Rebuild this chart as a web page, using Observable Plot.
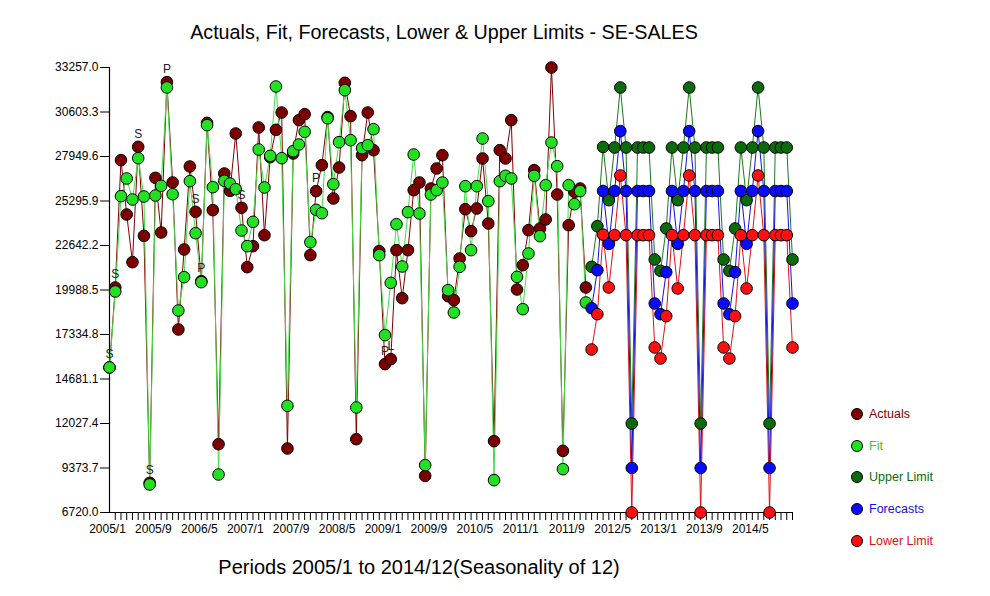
<!DOCTYPE html>
<html><head><meta charset="utf-8">
<script src="https://cdn.jsdelivr.net/npm/d3@7"></script>
<script src="https://cdn.jsdelivr.net/npm/@observablehq/plot@0.6"></script>
<style>
body{margin:0;background:#fff;font-family:"Liberation Sans",Arial,sans-serif;}
#wrap{position:relative;width:990px;height:596px;overflow:hidden;}
#legend{position:absolute;left:851px;top:398px;}
.item{display:flex;align-items:center;height:31.75px;font-size:12.5px;}
.sw{width:12px;height:12px;border-radius:50%;border:1px solid #000;box-sizing:border-box;margin-right:6px;}
</style></head><body><div id="wrap"></div>
<script>
// ---- data (month index 0 = 2005/1) ----
const actuals = [15370,20138,27731,24491,21648,28526,23219,8489,26677,23417,32382,26399,
 17633,22404,27353,24650,20515,29957,24749,10795,26936,25902,29321,24888,
 21350,22602,29679,23258,27910,29540,30573,10536,28128,30116,30474,22066,
 25882,27433,30300,25445,27294,32343,30355,11093,28029,30573,28327,22304,
 15566,15864,22364,19501,22364,25942,26399,8906,26041,27234,28029,19621,
 19382,21867,24809,23497,24849,27830,23954,10974,28327,27830,30116,20018,
 21469,23557,27135,23656,24193,33257,25683,10397,23855,25843,26041,20138];
const fit = [15370,19899,25584,26638,25385,27850,25564,8390,25624,26200,32064,25703,
 18766,20754,26479,23378,20455,29818,26121,8986,26498,26339,26002,23537,
 22602,24054,28367,26101,27989,32124,27850,13081,28268,28665,29421,22841,
 24769,24570,30230,26300,28804,31905,28924,12981,28447,28625,29580,22066,
 17295,20416,23914,21390,24630,28069,24550,9543,25683,25942,26399,19978,
 18647,21370,26180,22364,26180,29023,25286,8648,26479,26797,26638,20774,
 18845,22165,26797,23199,26240,28784,27373,9304,26240,25107,25882,19243];
const forecastStart = 84;
const forecasts = [18905,21171,25890,22742,25890,29460,25890,9374,25890,25890,25890,19183,
 18547,21052,25890,22742,25890,29460,25890,9374,25890,25890,25890,19183,
 18547,21052,25890,22742,25890,29460,25890,9374,25890,25890,25890,19183];
const upper = [21370,23795,28520,25346,28486,32064,28486,12027,28486,28486,28486,21807,
 21131,23656,28486,25346,28486,32064,28486,12027,28486,28486,28486,21807,
 21131,23656,28486,25346,28486,32064,28486,12027,28486,28486,28486,21807];
const lower = [16441,18547,23290,20138,23258,26817,23258,6720,23258,23258,23258,16560,
 15904,18428,23258,20078,23258,26817,23258,6720,23258,23258,23258,16560,
 15904,18428,23258,20078,23258,26817,23258,6720,23258,23258,23258,16560];
const yTicks = [6720.0,9373.7,12027.4,14681.1,17334.8,19988.5,22642.2,25295.9,27949.6,30603.3,33257.0];
const xTickLabels = ["2005/1","2005/9","2006/5","2007/1","2007/9","2008/5","2009/1","2009/9",
 "2010/5","2011/1","2011/9","2012/5","2013/1","2013/9","2014/5"];
const annotIdx = [0,1,5,7,10,15,16,23,36,48,49];
const annotText = ["S","S","S","S","P","S","P","S","P","P","L"];
const seriesNames = ["Actuals","Fit","Upper Limit","Forecasts","Lower Limit"];
const seriesColors = ["#7d0000","#22e022","#0b6b0b","#0a0aff","#ff1010"];
const textColors = ["#7d0000","#33cc33","#0b6b0b","#1010dd","#dd1010"];
const lineColors = ["#800000","#44dd44","#1a7a1a","#1010e0","#e01010"];

// ---- build tables ----
const tA = actuals.map((v,i)=>({i, v}));
const tF = fit.map((v,i)=>({i, v}));
const tU = upper.map((v,k)=>({i:k+forecastStart, v}));
const tC = forecasts.map((v,k)=>({i:k+forecastStart, v}));
const tL = lower.map((v,k)=>({i:k+forecastStart, v}));
const annots = annotIdx.map((i,k)=>({i, v: actuals[i], t: annotText[k]}));
const labelTicks = xTickLabels.map((_,k)=>k*8);
const minorTicks = d3.range(1,120);
const font = "Liberation Sans, Arial, sans-serif";

const dot = (data, c) => Plot.dot(data, {x:"i", y:"v", r:5.8, fill:c, stroke:"#000", strokeWidth:1});

const chart = Plot.plot({
  width: 990, height: 596,
  marginLeft: 109, marginRight: 198, marginTop: 67, marginBottom: 84,
  x: {type:"linear", domain: [0,119], axis: null},
  y: {type:"linear", domain: [6720, 33257], axis: null},
  style: {fontFamily: font, background: "white", overflow: "visible"},
  marks: [
    Plot.axisY({ticks: yTicks, tickFormat: d => d.toFixed(1), tickSize: 9, tickPadding: 2,
      fontSize: 12, label: null, stroke: "#000", fill: "#000"}),
    Plot.axisX({ticks: minorTicks, tickFormat: () => "", tickSize: 8, label: null, stroke:"#000"}),
    Plot.axisX({ticks: labelTicks, tickFormat: i => xTickLabels[i/8], tickSize: 0, tickPadding: 12,
      fontSize: 12, label: null, fill: "#000", dx: -2}),
    Plot.ruleX([0], {stroke:"#000", strokeWidth:1.2}),
    Plot.ruleY([6720], {stroke:"#000", strokeWidth:1.2}),
    Plot.line(tU, {x:"i", y:"v", stroke: lineColors[2], strokeWidth:1}),
    Plot.line(tL, {x:"i", y:"v", stroke: lineColors[4], strokeWidth:1}),
    Plot.line(tC, {x:"i", y:"v", stroke: lineColors[3], strokeWidth:1}),
    Plot.line(tA, {x:"i", y:"v", stroke: lineColors[0], strokeWidth:1}),
    Plot.line(tF, {x:"i", y:"v", stroke: lineColors[1], strokeWidth:1}),
    dot(tA, seriesColors[0]),
    dot(tF, seriesColors[1]),
    dot(tU, seriesColors[2]),
    dot(tC, seriesColors[3]),
    dot(tL, seriesColors[4]),
    Plot.text(annots, {x:"i", y:"v", text:"t", dy:-13, fontSize:12, fill:"#222"}),
    Plot.text(["Actuals, Fit, Forecasts, Lower & Upper Limits - SE-SALES"],
      {frameAnchor:"top", lineAnchor:"middle", dx:-7, dy:-35, fontSize:19.7, fill:"#000"}),
    Plot.text(["Periods 2005/1 to 2014/12(Seasonality of 12)"],
      {frameAnchor:"bottom", lineAnchor:"middle", dx:-32, dy:55, fontSize:20, fill:"#000"})
  ]
});
const wrap = document.getElementById("wrap");
wrap.appendChild(chart);
const leg = document.createElement("div");
leg.id = "legend";
seriesNames.forEach((n,k)=>{
  const it = document.createElement("div"); it.className="item";
  const sw = document.createElement("span"); sw.className="sw"; sw.style.background = seriesColors[k];
  const tx = document.createElement("span"); tx.textContent = n; tx.style.color = textColors[k];
  it.appendChild(sw); it.appendChild(tx); leg.appendChild(it);
});
wrap.appendChild(leg);
</script></body></html>
